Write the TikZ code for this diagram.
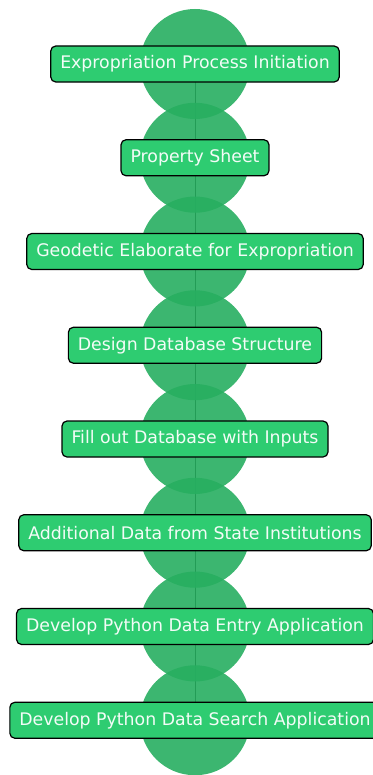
\documentclass[tikz,border=0pt]{standalone}
\usepackage{fontspec}
\setmainfont{DejaVu Sans}
\usetikzlibrary{positioning}
\definecolor{bubblegreen}{HTML}{27AE60}
\definecolor{boxgreen}{HTML}{2ECC71}

\begin{document}
\begin{tikzpicture}[
  x=1bp, y=-1bp,
  bubble/.style={circle, fill=bubblegreen, fill opacity=0.9, minimum size=110bp, inner sep=0pt},
  stepbox/.style={rounded corners=5bp, draw=black, line width=1.2bp, fill=boxgreen, text=white!94!boxgreen, font=\fontsize{17.4}{20}\selectfont, minimum height=36bp, inner xsep=9.5bp},
  link/.style={draw=black, line width=1bp}
]
  \useasboundingbox (0,0) rectangle (372,775);

  % centres of the bubbles
  \foreach \i in {1,...,8}
    \coordinate (p\i) at (195, {64+93.75*(\i-1)});

  % thin links behind the bubbles
  \foreach \i [evaluate=\i as \j using int(\i+1)] in {1,...,7}
    \draw[link] (p\i) -- (p\j);

  % bubbles
  \foreach \i in {1,...,8}
    \node[bubble] (c\i) at (p\i) {};

  % steps
  \node[stepbox] (s1) at (c1) {Expropriation Process Initiation};
  \node[stepbox] (s2) at (c2) {Property Sheet};
  \node[stepbox] (s3) at (c3) {Geodetic Elaborate for Expropriation};
  \node[stepbox] (s4) at (c4) {Design Database Structure};
  \node[stepbox] (s5) at (c5) {Fill out Database with Inputs};
  \node[stepbox] (s6) at (c6) {Additional Data from State Institutions};
  \node[stepbox] (s7) at (c7) {Develop Python Data Entry Application};
  \node[stepbox] (s8) at (c8) {Develop Python Data Search Application};

\end{tikzpicture}
\end{document}
